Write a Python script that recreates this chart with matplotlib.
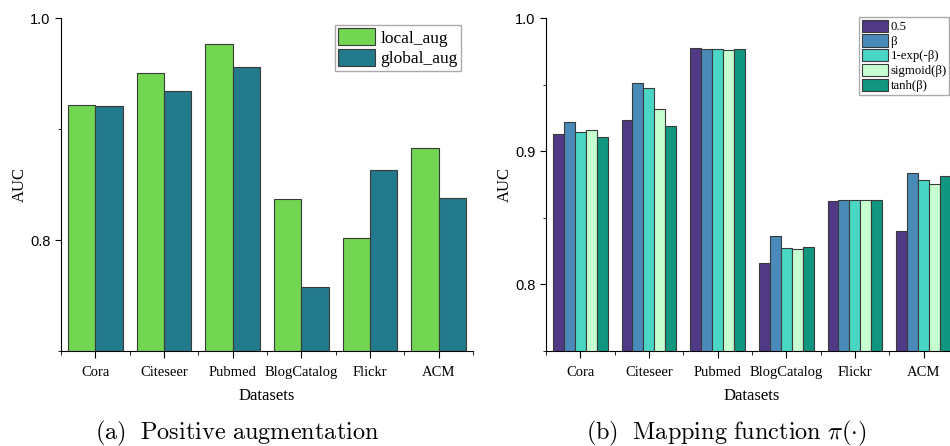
import matplotlib.pyplot as plt
import numpy as np
from matplotlib.ticker import MultipleLocator, FixedLocator

datasets = ['Cora', 'Citeseer', 'Pubmed', 'BlogCatalog', 'Flickr', 'ACM']

# (a) positive augmentation
local_aug = [0.9215, 0.951, 0.9768, 0.8367, 0.8015, 0.8833]
global_aug = [0.9209, 0.9347, 0.9558, 0.7579, 0.8629, 0.8379]

# (b) mapping function
map_labels = ['0.5', 'β', '1-exp(-β)', 'sigmoid(β)', 'tanh(β)']
map_half = [0.9130, 0.9238, 0.9773, 0.8163, 0.8630, 0.8398]
map_beta = [0.9218, 0.9510, 0.9768, 0.8365, 0.8633, 0.8835]
map_exp = [0.9143, 0.9475, 0.9768, 0.8273, 0.8633, 0.8783]
map_sigmoid = [0.9163, 0.9320, 0.9763, 0.8265, 0.8633, 0.8755]
map_tanh = [0.9110, 0.9190, 0.9768, 0.8280, 0.8633, 0.8818]

plt.rcParams['mathtext.fontset'] = 'cm'
serif = 'Liberation Serif'
sans = 'Liberation Sans'

fig = plt.figure(figsize=(9.5, 4.46), dpi=100)
ax1 = fig.add_axes([0.0642, 0.213, 0.4337, 0.746])
ax2 = fig.add_axes([0.5747, 0.213, 0.4337, 0.746])

x = np.arange(len(datasets))
edge = '#3a3a3a'

# left panel
w = 0.4
ax1.bar(x - w / 2, local_aug, w, color='#72d653', edgecolor=edge, linewidth=0.8, label='local_aug')
ax1.bar(x + w / 2, global_aug, w, color='#237a8c', edgecolor=edge, linewidth=0.8, label='global_aug')
ax1.set_ylim(0.7, 1.0)
ax1.yaxis.set_major_locator(FixedLocator([0.8, 1.0]))
ax1.yaxis.set_minor_locator(FixedLocator([0.7, 0.9]))
leg1 = ax1.legend(loc='upper left', bbox_to_anchor=(0.665, 0.98), prop={'family': serif, 'size': 12.5},
                  fancybox=False, edgecolor='#aaaaaa', framealpha=1, handlelength=2.1, handleheight=1.1,
                  handletextpad=0.3, labelspacing=0.15, borderpad=0.2, borderaxespad=0.0)

# right panel
w2 = 0.16
series = [map_half, map_beta, map_exp, map_sigmoid, map_tanh]
colors = ['#513a85', '#4a8ab8', '#4ad6c4', '#c6ffd0', '#11967f']
for i, (vals, c, lab) in enumerate(zip(series, colors, map_labels)):
    ax2.bar(x + (i - 2) * w2, vals, w2, color=c, edgecolor=edge, linewidth=0.8, label=lab)
ax2.set_ylim(0.75, 1.0)
ax2.yaxis.set_major_locator(FixedLocator([0.8, 0.9, 1.0]))
ax2.yaxis.set_minor_locator(FixedLocator([0.75, 0.85, 0.95]))
leg2 = ax2.legend(loc='upper left', bbox_to_anchor=(0.76, 1.004), prop={'family': serif, 'size': 9.2},
                  fancybox=False, edgecolor='#aaaaaa', framealpha=1, handlelength=2.1, handleheight=1.1,
                  handletextpad=0.15, labelspacing=0.1, borderpad=0.2, borderaxespad=0.0)

for ax in (ax1, ax2):
    ax.set_xlim(-0.5, 5.5)
    ax.set_xticks(x)
    ax.set_xticklabels(datasets, fontfamily=serif, fontsize=10.5)
    ax.xaxis.set_minor_locator(MultipleLocator(1.0, offset=0.5))
    ax.spines['top'].set_visible(False)
    ax.spines['right'].set_visible(False)
    ax.tick_params(axis='x', which='major', length=5, direction='out', pad=6)
    ax.tick_params(axis='x', which='minor', length=3, direction='out')
    ax.tick_params(axis='y', which='major', length=4, direction='out', labelsize=10.5)
    ax.tick_params(axis='y', which='minor', length=2.5, direction='out')
    for lab in ax.get_yticklabels():
        lab.set_fontfamily(sans)
    ax.set_xlabel('Datasets', fontfamily=serif, fontsize=12, labelpad=6)
    ax.set_ylabel('AUC', fontfamily=serif, fontsize=12, labelpad=2)

fig.text(0.25, 0.015, r'$\mathrm{(a)\ \ Positive\ augmentation}$', ha='center', fontsize=17.5)
fig.text(0.765, 0.015, r'$\mathrm{(b)\ \ Mapping\ function\ }\pi(\cdot)$', ha='center', fontsize=17.5)

fig.savefig('out.png', dpi=100)
